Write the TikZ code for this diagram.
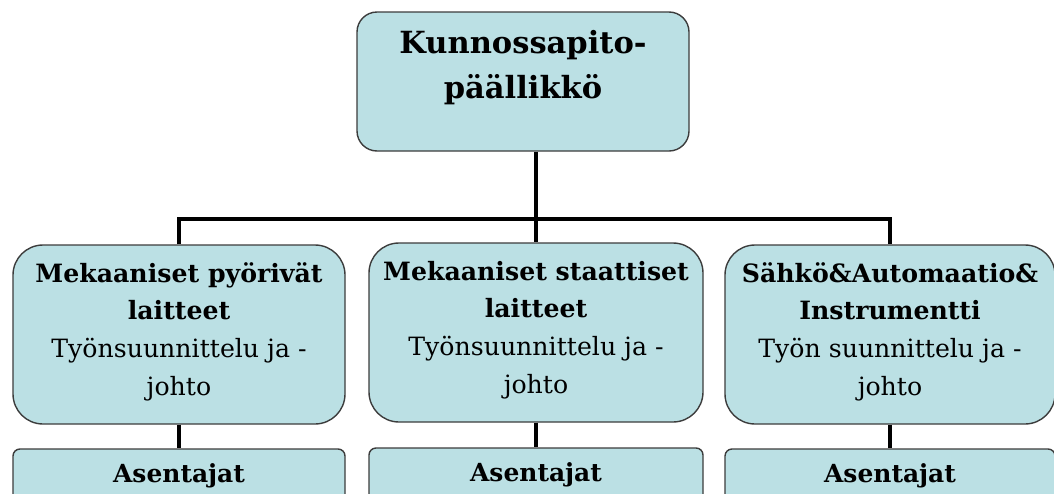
\documentclass[tikz,border=0pt]{standalone}
\usepackage{fontspec}
\setmainfont{DejaVu Serif}[Scale=0.86]
\definecolor{boxfill}{RGB}{187,224,228}
\definecolor{boxline}{RGB}{60,60,60}
\begin{document}
\begin{tikzpicture}[x=1pt,y=-1pt,
  box/.style={draw=boxline, line width=1.4pt, fill=boxfill, inner sep=0pt, anchor=base},
  chief/.style={box, rounded corners=20pt, minimum width=332pt,
    text height=41pt, text depth=98pt, font=\fontsize{35.5}{45}\selectfont\bfseries},
  unit/.style={box, rounded corners=30pt, text height=37pt, text depth=142pt,
    font=\fontsize{29.3}{37.7}\selectfont},
  crew/.style={box, rounded corners=7pt, text height=33pt, text depth=45pt,
    font=\fontsize{29}{37.7}\selectfont\bfseries},
  conn/.style={line width=4.5pt, line join=miter}]
\useasboundingbox (0,0) rectangle (1054,493);
\clip (0,0) rectangle (1054,493);

% head of maintenance
\node[chief] (chief) at (523,53)
  {\begin{tabular}[t]{@{}c@{}}Kunnossapito-\\päällikkö\end{tabular}};

% the three departments
\node[unit, minimum width=332pt] (m1) at (179,282)
  {\begin{tabular}[t]{@{}c@{}}\textbf{Mekaaniset pyörivät}\\\textbf{laitteet}\\Työnsuunnittelu ja -\\johto\end{tabular}};
\node[unit, minimum width=334pt] (m2) at (536,280)
  {\begin{tabular}[t]{@{}c@{}}\textbf{Mekaaniset staattiset}\\\textbf{laitteet}\\Työnsuunnittelu ja -\\johto\end{tabular}};
\node[unit, minimum width=330pt] (m3) at (890,282)
  {\begin{tabular}[t]{@{}c@{}}\textbf{Sähkö\&Automaatio\&}\\\textbf{Instrumentti}\\Työn suunnittelu ja -\\johto\end{tabular}};

% fitters under each department
\node[crew, minimum width=332pt] (a1) at (179,482) {Asentajat};
\node[crew, minimum width=334pt] (a2) at (536,481) {Asentajat};
\node[crew, minimum width=330pt] (a3) at (890,482) {Asentajat};

% connectors
\coordinate (bus) at (0,219);
\draw[conn] (m2.north |- chief.south) -- (m2.north);
\draw[conn] (m1.north) -- (m1.north |- bus) -- (m3.north |- bus) -- (m3.north);
\draw[conn] (m1.south) -- (a1.north);
\draw[conn] (m2.south) -- (a2.north);
\draw[conn] (m3.south) -- (a3.north);
\end{tikzpicture}
\end{document}
